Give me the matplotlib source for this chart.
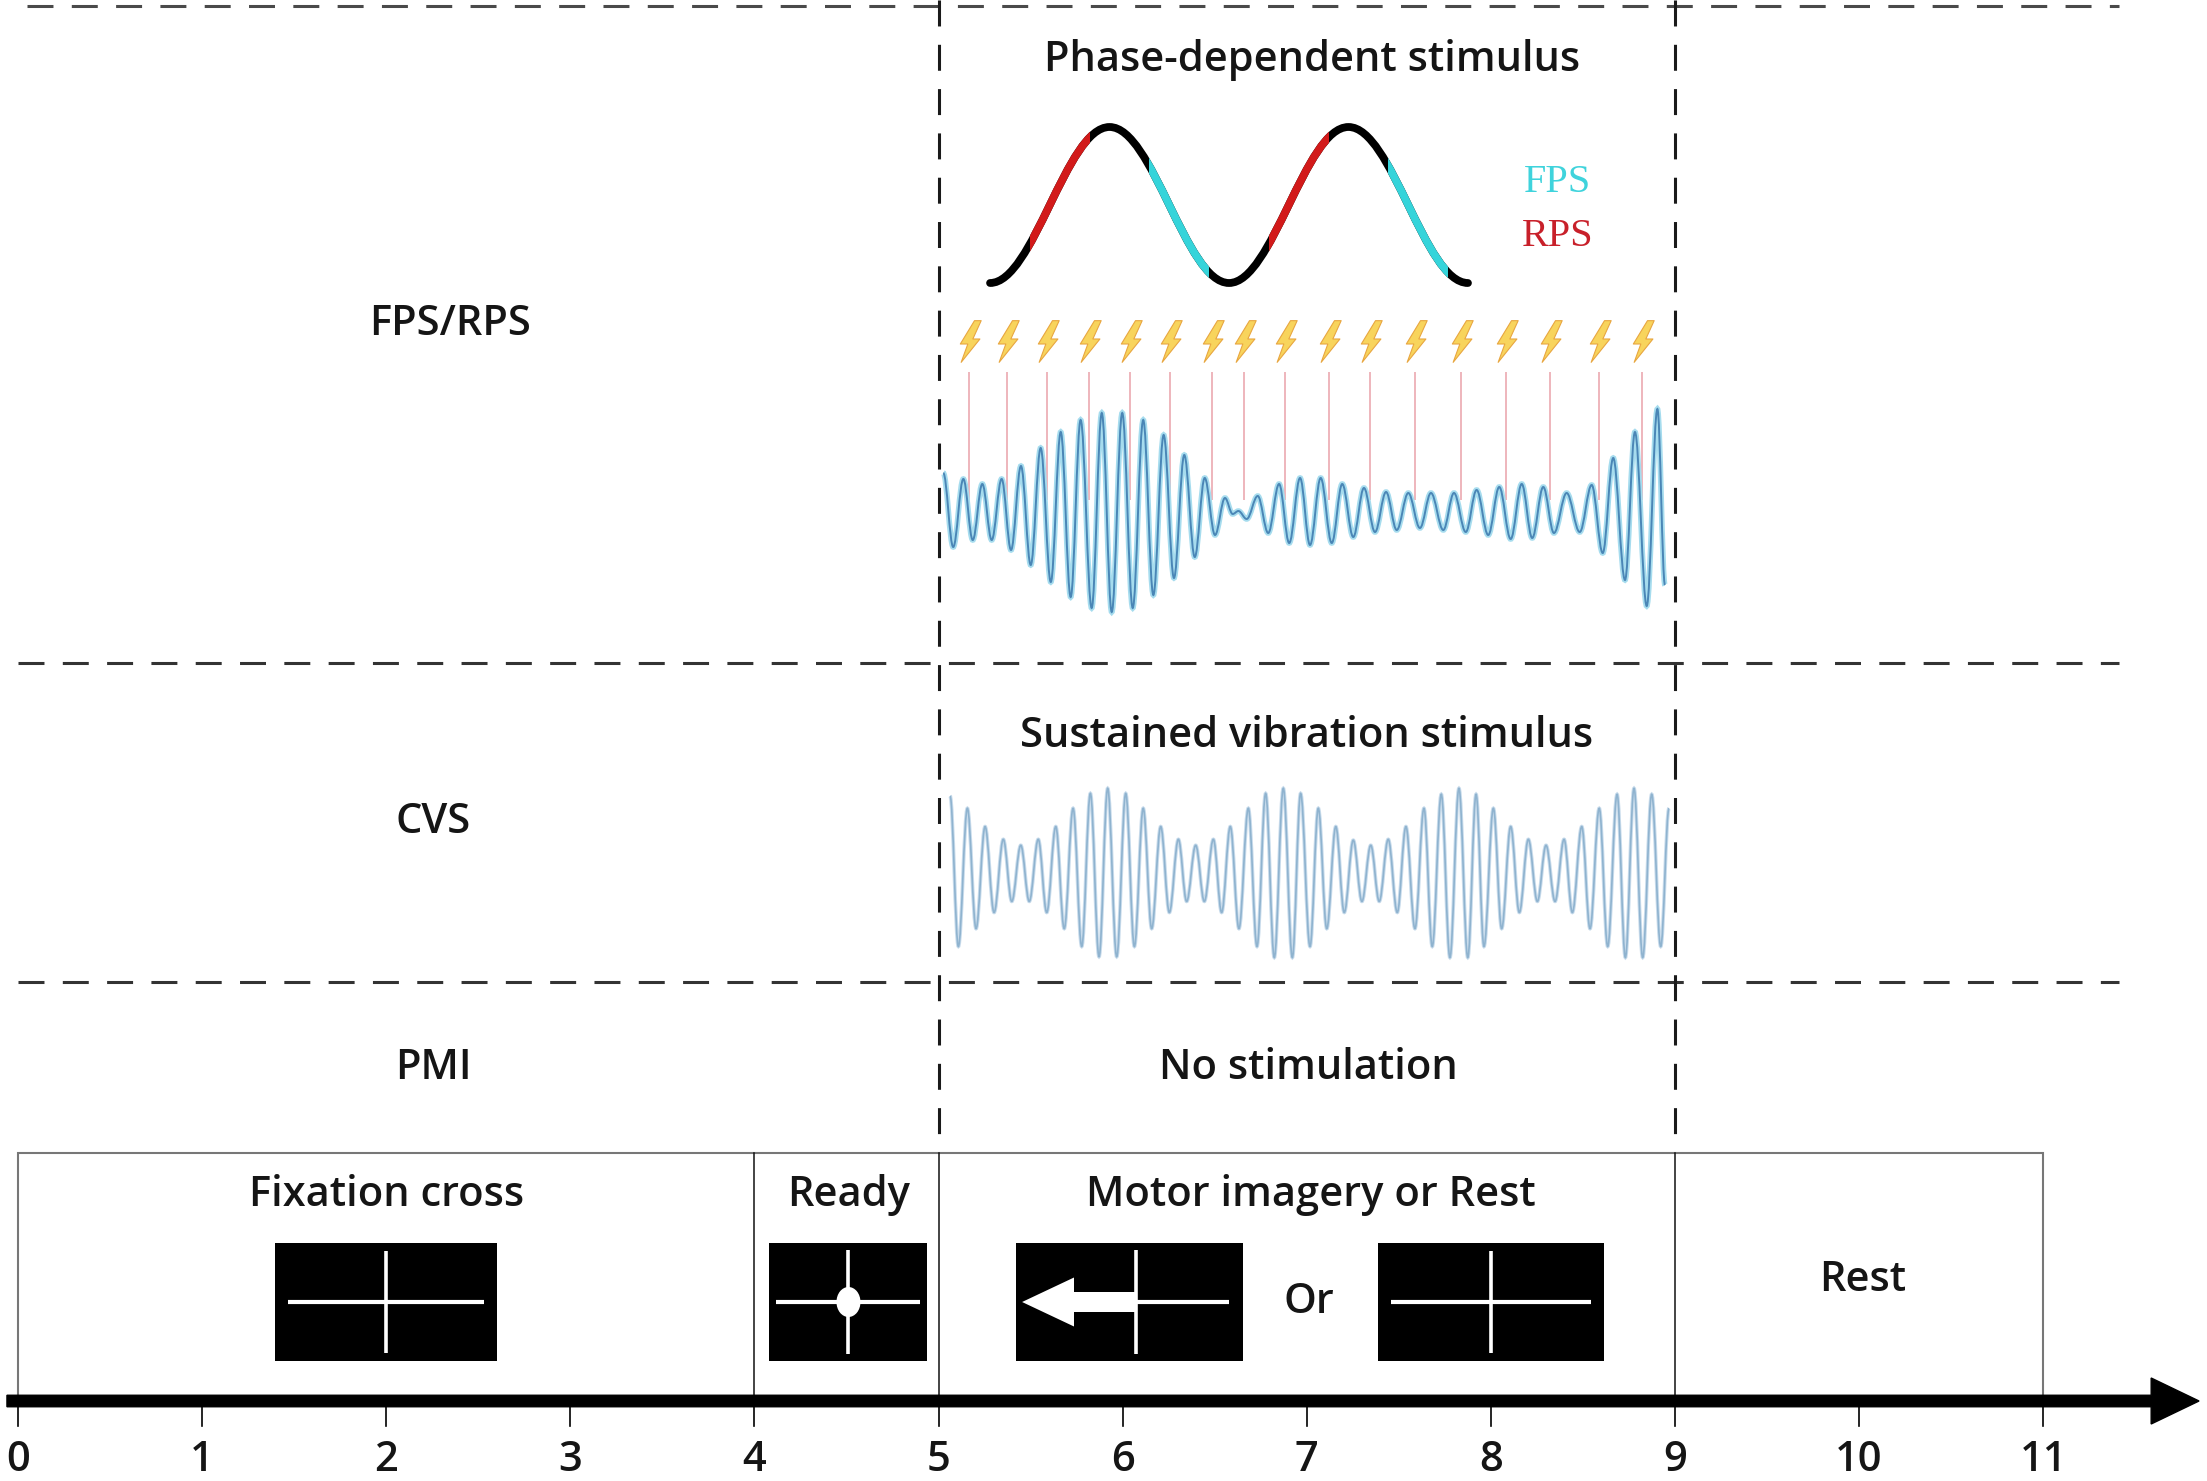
import numpy as np
import matplotlib
matplotlib.use('Agg')
import matplotlib.pyplot as plt
from matplotlib.path import Path
from matplotlib.patches import PathPatch, Rectangle, Ellipse

# ------------------------------------------------------------------ data
time_ticks = list(range(0, 12))
tick_labels = [str(t) for t in time_ticks]

phase_names = ['Fixation cross', 'Ready', 'Motor imagery or Rest', 'Rest']
phase_bounds = [0, 4, 5, 9, 11]

condition_labels = ['FPS/RPS', 'CVS', 'PMI']
condition_notes = ['Phase-dependent stimulus', 'Sustained vibration stimulus', 'No stimulation']
stim_window = (5, 9)

# schematic oscillation (extrema times in s, normalised value)
sine_t = [5.280, 5.929, 6.578, 7.227, 7.876]
sine_v = [-1, 1, -1, 1, -1]
rps_phase_deg = (60, 150)    # rising phase -> RPS
fps_phase_deg = (240, 330)   # falling phase -> FPS

# stimulation pulse times (s)
pulse_t = [5.165, 5.373, 5.589, 5.816, 6.038, 6.260, 6.487, 6.662, 6.883,
           7.119, 7.346, 7.590, 7.839, 8.083, 8.324, 8.588, 8.823]

# EEG trace extrema (s, normalised amplitude)
eeg_t = [5.026, 5.080, 5.135, 5.186, 5.238, 5.289, 5.343, 5.394, 5.448, 5.501,
         5.555, 5.610, 5.664, 5.718, 5.772, 5.832, 5.887, 5.941, 5.998, 6.055,
         6.112, 6.167, 6.223, 6.279, 6.335, 6.392, 6.446, 6.502, 6.556, 6.598,
         6.629, 6.674, 6.734, 6.791, 6.850, 6.905, 6.964, 7.018, 7.076, 7.136,
         7.193, 7.253, 7.311, 7.371, 7.431, 7.489, 7.552, 7.615, 7.675, 7.742,
         7.800, 7.864, 7.923, 7.986, 8.046, 8.108, 8.168, 8.225, 8.285, 8.343,
         8.412, 8.483, 8.548, 8.608, 8.665, 8.729, 8.783, 8.847, 8.905, 8.946]
eeg_v = [0.39, -0.35, 0.33, -0.28, 0.28, -0.28, 0.33, -0.38, 0.46, -0.53,
         0.64, -0.70, 0.80, -0.85, 0.92, -0.96, 0.99, -1.00, 0.99, -0.96,
         0.92, -0.83, 0.77, -0.66, 0.57, -0.45, 0.34, -0.23, 0.14, -0.02,
         0.01, -0.07, 0.16, -0.21, 0.28, -0.31, 0.34, -0.33, 0.34, -0.31,
         0.28, -0.25, 0.24, -0.20, 0.20, -0.18, 0.19, -0.16, 0.19, -0.18,
         0.19, -0.20, 0.22, -0.23, 0.25, -0.27, 0.28, -0.26, 0.25, -0.21,
         0.19, -0.20, 0.27, -0.41, 0.54, -0.68, 0.80, -0.94, 1.03, -0.73]

# continuous vibration trace extrema (s, normalised amplitude)
cvs_t = [5.063, 5.108, 5.157, 5.204, 5.253, 5.302, 5.352, 5.398, 5.447, 5.493,
         5.542, 5.588, 5.637, 5.683, 5.731, 5.778, 5.825, 5.872, 5.919, 5.968,
         6.017, 6.064, 6.112, 6.158, 6.207, 6.254, 6.303, 6.348, 6.397, 6.444,
         6.493, 6.538, 6.585, 6.632, 6.683, 6.730, 6.777, 6.824, 6.873, 6.922,
         6.967, 7.018, 7.063, 7.109, 7.158, 7.204, 7.253, 7.300, 7.348, 7.394,
         7.443, 7.492, 7.539, 7.588, 7.637, 7.682, 7.731, 7.778, 7.827, 7.875,
         7.920, 7.963, 8.014, 8.059, 8.108, 8.155, 8.204, 8.253, 8.300, 8.349,
         8.398, 8.443, 8.494, 8.539, 8.589, 8.635, 8.686, 8.731, 8.778, 8.825,
         8.874, 8.923, 8.968]
cvs_v = [0.90, -0.87, 0.755, -0.66, 0.54, -0.47, 0.39, -0.34, 0.32, -0.34,
         0.39, -0.47, 0.54, -0.66, 0.755, -0.87, 0.93, -0.99, 0.99, -0.99,
         0.93, -0.87, 0.755, -0.66, 0.54, -0.47, 0.39, -0.34, 0.32, -0.34,
         0.39, -0.47, 0.54, -0.66, 0.755, -0.87, 0.93, -1.0, 0.99, -1.0,
         0.93, -0.87, 0.755, -0.66, 0.54, -0.47, 0.38, -0.34, 0.32, -0.34,
         0.39, -0.47, 0.54, -0.66, 0.755, -0.87, 0.92, -1.0, 0.99, -1.0,
         0.92, -0.87, 0.755, -0.66, 0.54, -0.47, 0.39, -0.34, 0.32, -0.34,
         0.39, -0.47, 0.54, -0.66, 0.755, -0.87, 0.92, -1.0, 0.99, -1.0,
         0.92, -0.87, 0.755]

# ------------------------------------------------------------------ layout
W, H = 2207, 1481
PX_PER_S = 184.1
X_ORIGIN_PX = 18
X0 = -X_ORIGIN_PX / PX_PER_S
X1 = (W - X_ORIGIN_PX) / PX_PER_S

Y_TOP_DASH = 6
Y_SEP1 = 663
Y_SEP2 = 982
Y_BOX_TOP = 1153
Y_AXIS = 1401

FONT = ['Open Sans', 'DejaVu Sans']
TXT = '#151515'
FS = 30
FW = 'semibold'

fig = plt.figure(figsize=(W / 100, H / 100), dpi=100)
ax = fig.add_axes([0, 0, 1, 1])
ax.set_xlim(X0, X1)
ax.set_ylim(H, 0)
ax.axis('off')


def smooth_path(ts, ys, k=0.3634):
    verts = [(ts[0], ys[0])]
    codes = [Path.MOVETO]
    for i in range(len(ts) - 1):
        dt = ts[i + 1] - ts[i]
        verts += [(ts[i] + k * dt, ys[i]), (ts[i + 1] - k * dt, ys[i + 1]), (ts[i + 1], ys[i + 1])]
        codes += [Path.CURVE4] * 3
    return Path(verts, codes)


def label(x, y, s, **kw):
    params = dict(ha='center', va='center', fontsize=FS, family=FONT, color=TXT, fontweight=FW)
    params.update(kw)
    ax.text(x, y, s, **params)


dash_style = dict(linestyle=(0, (8.5, 6)), linewidth=2.2)

# horizontal separators
ax.plot([0.05, 11.41], [Y_TOP_DASH, Y_TOP_DASH], color='#4a4a4a', **dash_style, zorder=1)
for yy in (Y_SEP1, Y_SEP2):
    ax.plot([0.0, 11.41], [yy, yy], color='#333333', **dash_style, zorder=1)
# vertical dashed window lines
for tt in stim_window:
    ax.plot([tt, tt], [0, Y_BOX_TOP], color='#1a1a1a', **dash_style, zorder=1)

# ---- trial box
ax.add_patch(Rectangle((phase_bounds[0], Y_BOX_TOP), phase_bounds[-1] - phase_bounds[0],
                       Y_AXIS - Y_BOX_TOP, fill=False, edgecolor='#777777', linewidth=1.5, zorder=2))
for tt in phase_bounds[1:-1]:
    ax.plot([tt, tt], [Y_BOX_TOP, Y_AXIS], color='#111111', linewidth=1.1, zorder=3)

# ---- time axis
ax.arrow(-0.06, Y_AXIS, 11.847 + 0.06, 0, width=11.5, head_width=46, head_length=0.26,
         length_includes_head=True, color='black', zorder=5)
for t, lab in zip(time_ticks, tick_labels):
    ax.plot([t, t], [Y_AXIS, Y_AXIS + 25], color='black', linewidth=1.2, zorder=4)
    label(t, 1460, lab)

# ---- phase names
name_pos = [(2.0, 1195), (4.51, 1195), (7.02, 1195), (10.02, 1280)]
for name, (tx, ty) in zip(phase_names, name_pos):
    label(tx, ty, name)
label(7.01, 1302, 'Or')

# ---- cue pictures
BOX_Y0, BOX_H = 1243, 118
CUE_Y = BOX_Y0 + BOX_H / 2


def cue_box(cx, w):
    ax.add_patch(Rectangle((cx - w / 2, BOX_Y0), w, BOX_H, facecolor='black', edgecolor='none', zorder=3))


def cross(cx, half_w, half_h, x_left=None):
    xl = cx - half_w if x_left is None else x_left
    ax.plot([xl, cx + half_w], [CUE_Y, CUE_Y], color='white', linewidth=3, solid_capstyle='butt', zorder=4)
    ax.plot([cx, cx], [CUE_Y - half_h, CUE_Y + half_h], color='white', linewidth=2.6,
            solid_capstyle='butt', zorder=4)


cue_box(2.0, 1.207)
cross(2.0, 0.532, 51)
cue_box(4.511, 0.858)
cross(4.511, 0.391, 52)
ax.add_patch(Ellipse((4.511, CUE_Y), 24 / PX_PER_S, 30, facecolor='white', edgecolor='none', zorder=5))
cue_box(6.035, 1.233)
cross(6.073, 0.506, 52, x_left=6.073)
ax.arrow(6.073, CUE_Y, 5.454 - 6.073, 0, width=20, head_width=49, head_length=0.282,
         length_includes_head=True, facecolor='white', edgecolor='none', zorder=5)
cue_box(8.0, 1.229)
cross(8.0, 0.543, 51)

# ---- condition labels
label_pos = [(2.347, 324), (2.257, 822), (2.257, 1068)]
for lab, (tx, ty) in zip(condition_labels, label_pos):
    label(tx, ty, lab)
note_pos = [(7.03, 60), (7.0, 736), (7.01, 1068)]
for note, (tx, ty) in zip(condition_notes, note_pos):
    label(tx, ty, note)

# ---- phase-dependent schematic
SINE_C, SINE_A = 205, 78
sy = [SINE_C - v * SINE_A for v in sine_v]
spath = smooth_path(sine_t, sy)
ax.add_patch(PathPatch(spath, fill=False, edgecolor='black', linewidth=5.6, capstyle='round', zorder=6))
for cyc in range(2):
    t_tr = sine_t[2 * cyc]
    per = sine_t[2 * cyc + 2] - sine_t[2 * cyc]
    for (a, b), col in ((rps_phase_deg, '#d21a1a'), (fps_phase_deg, '#35d4da')):
        ta = t_tr + a / 360 * per
        tb = t_tr + b / 360 * per
        pp = PathPatch(spath, fill=False, edgecolor=col, linewidth=5.6, capstyle='butt', zorder=7)
        ax.add_patch(pp)
        clip = Rectangle((ta, 0), tb - ta, 400, transform=ax.transData)
        pp.set_clip_path(clip)

label(8.365, 183, 'FPS', color='#3fd3dc', family=['Liberation Serif', 'DejaVu Serif'],
      fontweight='normal', fontsize=29)
label(8.365, 237, 'RPS', color='#c8202a', family=['Liberation Serif', 'DejaVu Serif'],
      fontweight='normal', fontsize=29)

# ---- stimulation pulses
bolt = Path([(0.12, 0.5), (0.28, 0.5), (0.08, 0.06), (0.25, 0.06), (-0.20, -0.5),
             (-0.04, -0.06), (-0.22, -0.06), (0.12, 0.5)],
            [Path.MOVETO] + [Path.LINETO] * 6 + [Path.CLOSEPOLY])
ax.vlines(pulse_t, 372, 500, color='#e9a2aa', linewidth=1.1, zorder=6)
ax.plot(pulse_t, [341] * len(pulse_t), linestyle='none', marker=bolt, markersize=30,
        markerfacecolor='#f8d45c', markeredgecolor='#e8a640', markeredgewidth=0.8, zorder=7)

# ---- EEG trace
EEG_C, EEG_A = 512, 100
epath = smooth_path(eeg_t, [EEG_C - v * EEG_A for v in eeg_v])
ax.add_patch(PathPatch(epath, fill=False, edgecolor='#a6dcee', linewidth=4.0, zorder=8))
ax.add_patch(PathPatch(epath, fill=False, edgecolor='#4a86b6', linewidth=1.4, zorder=9))

# ---- CVS trace
CVS_C, CVS_A = 872.5, 85
cpath = smooth_path(cvs_t, [CVS_C - v * CVS_A for v in cvs_v])
ax.add_patch(PathPatch(cpath, fill=False, edgecolor='#c9dcec', linewidth=2.6, zorder=8))
ax.add_patch(PathPatch(cpath, fill=False, edgecolor='#8fb3cf', linewidth=1.2, zorder=9))

fig.savefig('out.png', dpi=100, facecolor='white')
